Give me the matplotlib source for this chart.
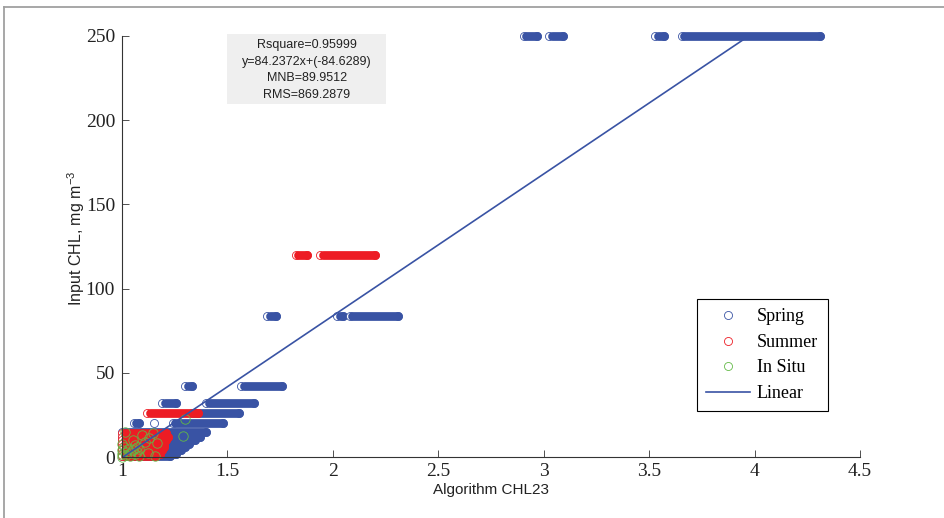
import numpy as np
import matplotlib
matplotlib.use('Agg')
import matplotlib.pyplot as plt
from matplotlib.lines import Line2D
from matplotlib.patches import Rectangle

plt.rcParams['mathtext.default'] = 'regular'

# streaks of points: level (y) and x range of the dense runs of circles
spring_y = [250, 250, 250, 250, 84, 84, 84, 42, 42, 32, 32, 26, 20, 20, 20,
            15, 12, 10, 8, 6, 4, 2, 0.5]
spring_x0 = [2.905, 3.025, 3.53, 3.655, 1.69, 2.02, 2.08, 1.30, 1.565, 1.19, 1.40, 1.33,
             1.055, 1.15, 1.24, 1.0, 1.0, 1.0, 1.0, 1.0, 1.0, 1.0, 1.0]
spring_x1 = [2.97, 3.09, 3.57, 4.31, 1.73, 2.05, 2.31, 1.33, 1.76, 1.255, 1.625, 1.555,
             1.08, 1.15, 1.48, 1.40, 1.37, 1.345, 1.32, 1.30, 1.28, 1.255, 1.23]

summer_y = [120, 120, 26, 14, 12, 10, 8, 6, 4, 2, 0.5]
summer_x0 = [1.825, 1.94, 1.12, 1.0, 1.0, 1.0, 1.0, 1.0, 1.0, 1.0, 1.0]
summer_x1 = [1.875, 2.20, 1.36, 1.21, 1.22, 1.21, 1.20, 1.20, 1.19, 1.18, 1.16]

insitu_x = [1.0, 1.0, 1.0, 1.01, 1.02, 1.02, 1.03, 1.04, 1.04, 1.05, 1.06, 1.06, 1.07,
            1.08, 1.08, 1.0, 1.015, 1.095, 1.147, 1.11, 1.165, 1.07, 1.155, 1.125,
            1.29, 1.30, 1.13, 1.05]
insitu_y = [0, 2, 4, 6, 1, 3, 5, 0.5, 2.5, 4, 1.5, 7, 3, 5, 0.5, 8, 15, 13, 14, 9,
            8.3, 6, 0.6, 2.4, 12.5, 22.6, 11, 10]

# fit statistics
r2 = 0.95999
slope = 84.2372
intercept = -84.6289
mnb = 89.9512
rms = 869.2879

x_ticks = [1, 1.5, 2, 2.5, 3, 3.5, 4, 4.5]
x_ticklabels = ['1', '1.5', '2', '2.5', '3', '3.5', '4', '4.5']
y_ticks = [0, 50, 100, 150, 200, 250]

BLUE = '#3953a4'
RED = '#ed1c24'
GREEN = '#62b946'
MS = 5.8
MEW = 0.6
BAND = 6.3
RING_GAP = 0.012  # small shift so the first ring of a run stays open

fig = plt.figure(figsize=(9.44, 5.18), dpi=100)
ax = fig.add_axes([122 / 944, 61 / 518, 738 / 944, 421 / 518])


def draw_streaks(ys, x0s, x1s, color):
    for y, a, b in zip(ys, x0s, x1s):
        ax.plot([a], [y], 'o', ms=MS, mew=MEW, mfc='white', mec=color, clip_on=False)
        if b > a:
            ax.plot([min(a + RING_GAP, b), b], [y, y], color=color, lw=BAND,
                    solid_capstyle='round', clip_on=False)
            ax.plot([b], [y], 'o', ms=MS, mew=MEW, mfc='none', mec=color, clip_on=False)


draw_streaks(spring_y, spring_x0, spring_x1, BLUE)
draw_streaks(summer_y, summer_x0, summer_x1, RED)
ax.plot(insitu_x, insitu_y, 'o', ms=MS + 1, mew=MEW, mfc='none', mec=GREEN, clip_on=False)

# linear fit
fx = np.array([1.0, max(spring_x1)])
ax.plot(fx, slope * fx + intercept, color=BLUE, lw=1.2)

ax.set_xlim(1, 4.5)
ax.set_ylim(0, 250)
ax.set_xticks(x_ticks)
ax.set_xticklabels(x_ticklabels)
ax.set_yticks(y_ticks)
for s in ['top', 'right']:
    ax.spines[s].set_visible(False)
for s in ['left', 'bottom']:
    ax.spines[s].set_color('#333333')
    ax.spines[s].set_linewidth(0.8)
ax.tick_params(direction='in', length=5, width=0.6, color='#333333')
ax.tick_params(axis='x', pad=4.5)
ax.tick_params(axis='y', pad=5)
for lab in ax.get_xticklabels() + ax.get_yticklabels():
    lab.set_family('Liberation Serif')
    lab.set_fontsize(14)
    lab.set_color('#222222')

ax.set_xlabel('Algorithm CHL23', family='Liberation Sans', fontsize=11, color='#222222')
ax.set_ylabel('Input CHL, mg m$^{-3}$', family='Liberation Sans', fontsize=11.5, color='#222222')
ax.xaxis.set_label_coords(0.5, -0.062)
ax.yaxis.set_label_coords(-0.047, 0.52)

# stats box
fig.patches.append(Rectangle((227 / 944, 1 - 104 / 518), 159 / 944, 70 / 518,
                             transform=fig.transFigure, facecolor='#efefef', edgecolor='none'))
stats = f"Rsquare={r2}\ny={slope}x+({intercept})\nMNB={mnb}\nRMS={rms}"
fig.text(307 / 944, 1 - 70 / 518, stats, ha='center', va='center', family='Liberation Sans',
         fontsize=9, linespacing=1.5, color='#222222')

handles = [Line2D([], [], ls='none', marker='o', ms=MS, mew=MEW, mfc='none', mec=BLUE),
           Line2D([], [], ls='none', marker='o', ms=MS, mew=MEW, mfc='none', mec=RED),
           Line2D([], [], ls='none', marker='o', ms=MS, mew=MEW, mfc='none', mec=GREEN),
           Line2D([], [], color=BLUE, lw=1.2)]
leg = ax.legend(handles, ['Spring', 'Summer', 'In Situ', 'Linear'], loc='upper left',
                bbox_to_anchor=(697 / 944, 1 - 299 / 518), bbox_transform=fig.transFigure,
                borderaxespad=0, prop={'family': 'Liberation Serif', 'size': 13},
                handlelength=2.4, handletextpad=0.4, labelspacing=0.47, borderpad=0.52,
                fancybox=False, framealpha=1, edgecolor='black')
leg.get_frame().set_linewidth(0.8)

# outer frame of the figure
fig.add_artist(Line2D([4 / 944, 4 / 944], [0, 1 - 6.5 / 518], transform=fig.transFigure,
                      color='#a0a0a0', lw=1.3))
fig.add_artist(Line2D([4 / 944, 1], [1 - 6.5 / 518, 1 - 6.5 / 518], transform=fig.transFigure,
                      color='#a0a0a0', lw=1.3))

fig.savefig('out.png', dpi=100)
